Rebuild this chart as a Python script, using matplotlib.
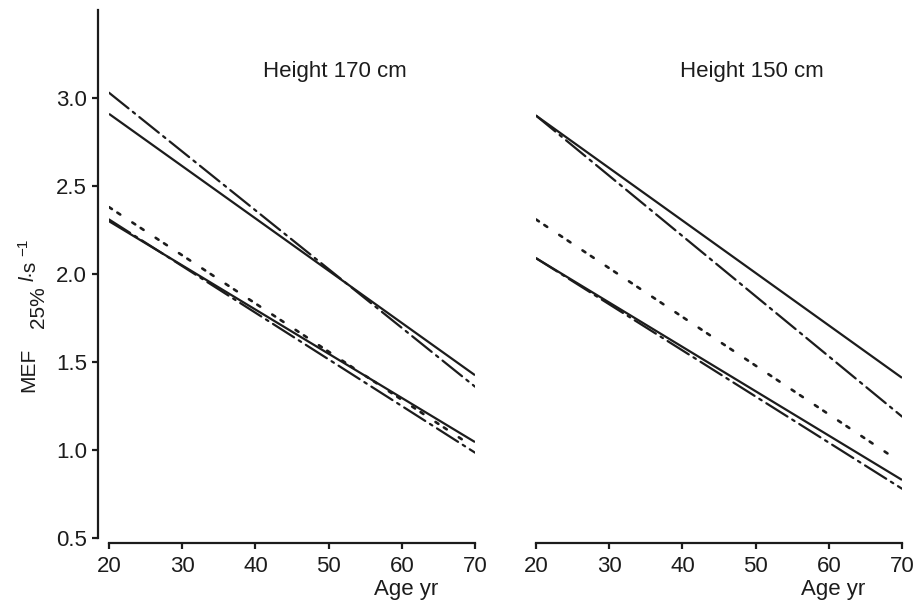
import matplotlib
matplotlib.use('Agg')
import matplotlib.pyplot as plt
import matplotlib.transforms as mtransforms

plt.rcParams['font.family'] = ['Liberation Sans', 'DejaVu Sans']
plt.rcParams['lines.scale_dashes'] = False

# regression lines: MEF at start age and at end age
age_start = 20
age_end = 70

# height 170 cm
h170_solid_upper = [2.91, 1.425]
h170_dashdot_upper = [3.03, 1.36]
h170_dotted = [2.38, 1.05]
h170_dotted_end_age = 68.6
h170_solid_lower = [2.30, 1.045]
h170_dashdot_lower = [2.31, 0.985]

# height 150 cm
h150_solid_upper = [2.90, 1.41]
h150_dashdot_upper = [2.90, 1.19]
h150_dotted = [2.31, 0.97]
h150_dotted_end_age = 68.4
h150_solid_lower = [2.09, 0.83]
h150_dashdot_lower = [2.09, 0.78]

panel_titles = ['Height 170 cm', 'Height 150 cm']
x_ticks = [20, 30, 40, 50, 60, 70]
y_ticks = [0.5, 1.0, 1.5, 2.0, 2.5, 3.0]

ink = '#1c1c1c'
solid = '-'
dashdot = (0, (18, 4, 2, 4))
dotted = (0, (2.5, 4.7, 2.5, 10.4))

W, H = 916, 603
fig = plt.figure(figsize=(W / 100, H / 100), dpi=100)
ax1 = fig.add_axes([109 / W, 1 - 538 / H, 366 / W, 528 / H])
ax2 = fig.add_axes([536 / W, 1 - 538 / H, 366 / W, 528 / H])

panels = [
    (ax1, [(h170_solid_upper, solid, age_end),
           (h170_dashdot_upper, dashdot, age_end),
           (h170_dotted, dotted, h170_dotted_end_age),
           (h170_solid_lower, solid, age_end),
           (h170_dashdot_lower, dashdot, age_end)]),
    (ax2, [(h150_solid_upper, solid, age_end),
           (h150_dashdot_upper, dashdot, age_end),
           (h150_dotted, dotted, h150_dotted_end_age),
           (h150_solid_lower, solid, age_end),
           (h150_dashdot_lower, dashdot, age_end)]),
]

title_x = [0.617, 0.59]

for i, (ax, lines) in enumerate(panels):
    for vals, ls, end in lines:
        lw = 1.9 if ls is dotted else 1.6
        ax.plot([age_start, end], vals, color=ink, linestyle=ls, linewidth=lw,
                solid_capstyle='butt', dash_capstyle='round')

    ax.set_xlim(20, 70)
    ax.set_ylim(0.5, 3.5)
    ax.set_xticks(x_ticks)
    ax.set_xticklabels([str(t) for t in x_ticks])
    for s in ['top', 'right']:
        ax.spines[s].set_visible(False)
    ax.spines['bottom'].set_position(('outward', 3.6))
    ax.spines['bottom'].set_linewidth(1.6)
    ax.spines['bottom'].set_color(ink)
    ax.tick_params(axis='x', direction='out', length=4, width=1.6,
                   color=ink, pad=5, labelcolor=ink, labelsize=16)
    ax.patch.set_alpha(0)

    ax.text(title_x[i], 0.883, panel_titles[i],
            transform=ax.transAxes, ha='center', va='center',
            fontsize=16, color=ink)

    # axis caption sits under the tick labels near 60
    trans = mtransforms.blended_transform_factory(ax.transData, ax.transAxes)
    ax.text(60.6, -0.108, 'Age yr', transform=trans, ha='center',
            va='baseline', fontsize=16, color=ink)

ax1.set_yticks(y_ticks)
ax1.set_yticklabels([f'{t:.1f}' for t in y_ticks])
ax1.spines['left'].set_position(('outward', 8))
ax1.spines['left'].set_linewidth(1.6)
ax1.spines['left'].set_color(ink)
ax1.spines['left'].set_bounds(0.5, 3.5)
ax1.tick_params(axis='y', direction='out', length=4, width=1.6,
                color=ink, pad=4, labelcolor=ink, labelsize=16)

ax2.spines['left'].set_visible(False)
ax2.set_yticks([])


# y axis caption, built piece by piece so the subscript stays full size
def ylab(px, py, s, size=15, style='normal'):
    fig.text(px / W, 1 - py / H, s, rotation=90, rotation_mode='anchor',
             ha='left', va='baseline', fontsize=size, fontstyle=style,
             color=ink)


ylab(34, 392, 'MEF')
ylab(44, 328, '25%')
ylab(34, 281, 'l', style='italic')
ylab(34, 276, '\u00b7s')
ylab(27, 256, '\u22121', size=11)

fig.savefig('out.png', dpi=100)
